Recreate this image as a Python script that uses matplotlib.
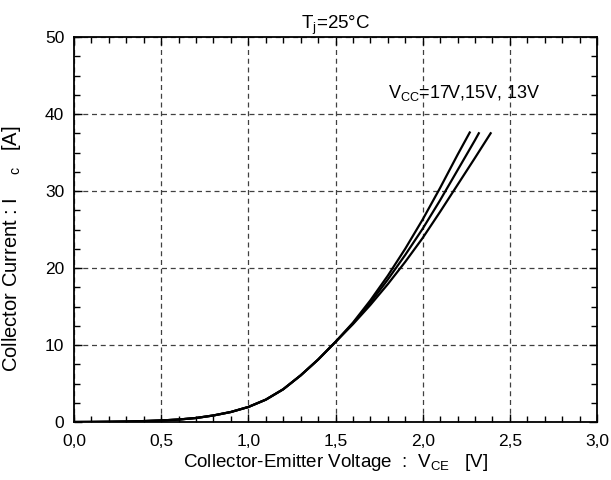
import numpy as np
import matplotlib.pyplot as plt
from matplotlib.ticker import MultipleLocator, FuncFormatter

plt.rcParams['font.family'] = ['Liberation Sans', 'DejaVu Sans']
plt.rcParams['mathtext.fontset'] = 'custom'
plt.rcParams['mathtext.rm'] = 'Liberation Sans'

# ---------- Data (V_CE [V], I_C [A]) ----------
v_low = [0.0, 0.1, 0.2, 0.3, 0.4, 0.5, 0.6, 0.7, 0.8, 0.9, 1.0, 1.1, 1.2, 1.3, 1.4, 1.5]
i_low = [0.0, 0.01, 0.03, 0.06, 0.12, 0.2, 0.32, 0.52, 0.85, 1.3, 1.95, 2.9, 4.25, 6.05, 8.1, 10.4]

v_17 = [1.6, 1.7, 1.8, 1.9, 2.0, 2.1, 2.2, 2.27]
i_17 = [12.9, 15.8, 19.0, 22.5, 26.3, 30.4, 34.7, 37.6]

v_15 = [1.6, 1.7, 1.8, 1.9, 2.0, 2.1, 2.2, 2.3, 2.322]
i_15 = [12.8, 15.5, 18.5, 21.7, 25.1, 28.8, 32.7, 36.6, 37.5]

v_13 = [1.6, 1.7, 1.8, 1.9, 2.0, 2.1, 2.2, 2.3, 2.39]
i_13 = [12.7, 15.2, 17.9, 20.8, 23.9, 27.3, 30.8, 34.3, 37.5]

curves = [(v_17, i_17), (v_15, i_15), (v_13, i_13)]

fig = plt.figure(figsize=(6.11, 4.8), dpi=100)
ax = fig.add_axes([74/611, 58/480, 523/611, 385/480])

for v_hi, i_hi in curves:
    ax.plot(v_low + v_hi, i_low + i_hi, color='black', linewidth=1.6)

ax.set_xlim(0, 3.0)
ax.set_ylim(0, 50)
ax.xaxis.set_major_locator(MultipleLocator(0.5))
ax.xaxis.set_minor_locator(MultipleLocator(0.1))
ax.yaxis.set_major_locator(MultipleLocator(10))
ax.yaxis.set_minor_locator(MultipleLocator(2.5))
ax.xaxis.set_major_formatter(FuncFormatter(lambda v, p: f"{v:.1f}".replace('.', ',')))

ax.grid(True, which='major', color='0.25', linestyle=(0, (4, 3)), linewidth=0.9)
ax.tick_params(axis='both', which='both', direction='in', top=True, right=True,
               labelsize=12.5, width=1.0)
ax.tick_params(axis='both', which='major', length=6)
ax.tick_params(axis='both', which='minor', length=4)
ax.tick_params(axis='x', which='major', pad=9)
ax.tick_params(axis='y', which='major', pad=7)
for s in ax.spines.values():
    s.set_linewidth(1.3)

ax.set_title(r'T$_\mathregular{j}$=25°C', fontsize=13.5, pad=3)
ax.text(1.80, 42.1, r'V$_\mathregular{CC}$=17V,15V, 13V', fontsize=13, va='baseline')

ax.set_xlabel(r'Collector-Emitter Voltage  :  V$_\mathregular{CE}$   [V]', fontsize=13.5, labelpad=2)
ax.set_ylabel(r'Collector Current : I    $_\mathregular{c}$   [A]', fontsize=14.5)
ax.yaxis.set_label_coords(-0.097, 0.45)

fig.savefig("out.png", dpi=100)
